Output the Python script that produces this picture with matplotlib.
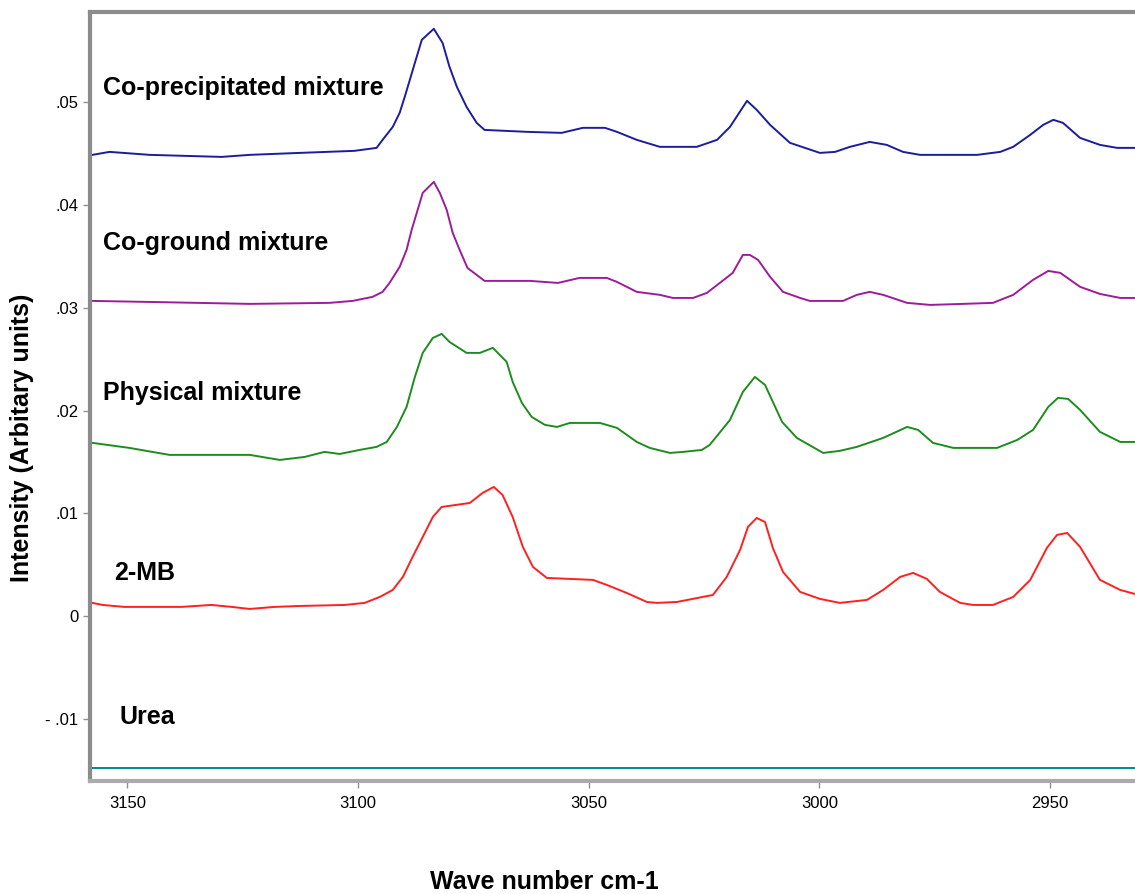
import matplotlib
matplotlib.use("Agg")
import matplotlib.pyplot as plt

plt.rcParams['font.family'] = ['Liberation Sans', 'DejaVu Sans']

# ---- data (wave number cm-1, intensity) ----
coprec_wn = [3157.6, 3153.9, 3145.2, 3129.6, 3123.5, 3112.7, 3100.8, 3096.0, 3094.7, 3092.5,
             3091.0, 3089.9, 3088.8, 3087.7, 3086.2, 3083.6, 3081.7, 3080.2, 3078.6, 3076.5,
             3074.3, 3072.6, 3063.4, 3055.9, 3051.3, 3046.5, 3043.9, 3039.6, 3034.6, 3026.6,
             3022.2, 3019.4, 3015.7, 3013.6, 3010.7, 3006.4, 2999.9, 2996.6, 2993.4, 2989.1,
             2985.4, 2981.9, 2978.2, 2965.8, 2960.8, 2958.0, 2954.3, 2951.5, 2949.3, 2947.2,
             2943.5, 2939.2, 2935.5, 2931.6]
coprec_int = [.04489, .04518, .04489, .04469, .04489, .04508, .04528, .04557, .04635, .04761,
              .04898, .05054, .05219, .05385, .05609, .05716, .05579, .05346, .05151, .04956,
              .04800, .04732, .04713, .04703, .04752, .04752, .04713, .04635, .04567, .04567,
              .04635, .04761, .05015, .04927, .04781, .04606, .04508, .04518, .04567, .04615,
              .04586, .04518, .04489, .04489, .04518, .04567, .04684, .04781, .04830, .04800,
              .04654, .04586, .04557, .04557]

coground_wn = [3157.6, 3145.2, 3123.5, 3106.2, 3101.2, 3096.9, 3094.7, 3093.2, 3091.0, 3089.5,
               3088.4, 3087.1, 3086.0, 3083.6, 3082.3, 3080.8, 3079.5, 3078.0, 3076.3, 3074.3,
               3072.6, 3062.8, 3056.7, 3052.0, 3046.1, 3043.9, 3039.6, 3034.6, 3031.8, 3027.4,
               3024.4, 3021.6, 3018.8, 3016.6, 3015.1, 3013.3, 3010.7, 3007.9, 3004.2, 3002.1,
               2994.9, 2991.9, 2989.1, 2986.2, 2981.0, 2976.0, 2968.9, 2962.4, 2958.0, 2953.7,
               2950.4, 2947.8, 2943.5, 2939.2, 2934.8, 2931.6]
coground_int = [.03067, .03057, .03038, .03048, .03067, .03106, .03155, .03242, .03398, .03564,
                .03759, .03953, .04119, .04226, .04119, .03953, .03729, .03564, .03388, .03320,
                .03262, .03262, .03242, .03291, .03291, .03252, .03155, .03126, .03096, .03096,
                .03145, .03242, .03340, .03515, .03515, .03466, .03301, .03155, .03096, .03067,
                .03067, .03126, .03155, .03126, .03048, .03028, .03038, .03048, .03126, .03272,
                .03359, .03340, .03204, .03135, .03096, .03096]

physical_wn = [3157.6, 3149.6, 3140.9, 3123.5, 3117.0, 3111.6, 3107.3, 3104.0, 3099.7, 3096.0,
               3093.8, 3091.6, 3089.5, 3087.7, 3086.0, 3083.8, 3081.9, 3080.2, 3076.5, 3073.6,
               3070.8, 3067.8, 3066.5, 3064.5, 3062.4, 3059.5, 3056.9, 3054.1, 3047.6, 3043.9,
               3039.6, 3036.8, 3032.4, 3029.6, 3025.5, 3023.8, 3019.4, 3016.6, 3014.0, 3011.8,
               3008.1, 3004.9, 2999.2, 2995.6, 2991.9, 2986.2, 2981.0, 2978.6, 2975.4, 2971.0,
               2961.5, 2957.1, 2953.7, 2950.4, 2948.3, 2946.1, 2943.5, 2939.2, 2934.8, 2931.6]
physical_int = [.01685, .01636, .01568, .01568, .01519, .01548, .01597, .01577, .01616, .01646,
                .01694, .01840, .02035, .02327, .02561, .02707, .02746, .02668, .02561, .02561,
                .02610, .02473, .02278, .02074, .01938, .01860, .01840, .01879, .01879, .01831,
                .01694, .01636, .01587, .01597, .01616, .01665, .01908, .02181, .02327, .02249,
                .01889, .01733, .01587, .01607, .01646, .01733, .01840, .01811, .01685, .01636,
                .01636, .01714, .01811, .02035, .02123, .02113, .02006, .01792, .01694, .01694]

mb_wn = [3157.6, 3155.4, 3150.7, 3138.3, 3131.8, 3127.4, 3123.5, 3118.1, 3112.7, 3102.9,
         3098.6, 3095.3, 3092.5, 3090.3, 3088.2, 3086.0, 3083.8, 3081.9, 3075.8, 3073.0,
         3070.6, 3068.7, 3066.5, 3064.3, 3062.1, 3059.1, 3049.1, 3046.1, 3041.8, 3037.4,
         3035.2, 3030.9, 3025.3, 3023.1, 3020.1, 3017.2, 3015.5, 3013.6, 3011.8, 3010.1,
         3007.9, 3004.2, 2999.9, 2995.6, 2989.7, 2986.2, 2982.5, 2979.7, 2976.7, 2973.9,
         2969.5, 2966.7, 2962.4, 2958.0, 2954.3, 2950.7, 2948.5, 2946.3, 2943.5, 2939.2,
         2934.8, 2931.6]
mb_int = [.00127, .00107, .00088, .00088, .00107, .00088, .00068, .00088, .00097, .00107,
          .00127, .00185, .00253, .00380, .00574, .00769, .00964, .01061, .01100, .01198,
          .01256, .01178, .00964, .00672, .00477, .00370, .00351, .00302, .00224, .00136,
          .00127, .00136, .00185, .00204, .00380, .00643, .00867, .00954, .00915, .00662,
          .00428, .00234, .00166, .00127, .00156, .00253, .00380, .00419, .00360, .00234,
          .00127, .00107, .00107, .00185, .00351, .00662, .00789, .00808, .00672, .00351,
          .00253, .00214]

urea_wn = [3157.6, 2931.6]
urea_int = [-0.0148, -0.0148]

labels = ["Co-precipitated mixture", "Co-ground mixture", "Physical mixture", "2-MB", "Urea"]
colors = ["#1c1c9c", "#9c1c9c", "#1e8c1e", "#ff2020", "#008b8b"]

x_ticks = [3150, 3100, 3050, 3000, 2950]
y_ticks = [0.05, 0.04, 0.03, 0.02, 0.01, 0.0, -0.01]
y_tick_labels = [".05", ".04", ".03", ".02", ".01", "0", "- .01"]

# label anchor points (wave number, intensity)
label_wn = [3155.4, 3155.4, 3155.4, 3152.8, 3151.7]
label_int = [0.0514, 0.0363, 0.0217, 0.0042, -0.0098]

fig = plt.figure(figsize=(11.35, 8.94), dpi=100)
ax = fig.add_axes([0.079, 0.1264, 0.921, 0.8602])

series = [(coprec_wn, coprec_int), (coground_wn, coground_int),
          (physical_wn, physical_int), (mb_wn, mb_int), (urea_wn, urea_int)]
for (wn, inten), c in zip(series, colors):
    ax.plot(wn, inten, color=c, lw=1.4)

for txt, lx, ly in zip(labels, label_wn, label_int):
    ax.text(lx, ly, txt, fontsize=18, fontweight='bold', ha='left', va='center')

ax.set_xlim(3158.2, 2931.6)
ax.set_ylim(-0.01607, 0.0588)
ax.set_xticks(x_ticks)
ax.set_xticklabels([str(t) for t in x_ticks])
ax.set_yticks(y_ticks)
ax.set_yticklabels(y_tick_labels)
ax.tick_params(axis='both', direction='out', length=5, width=1, color='#909090',
               labelsize=12, pad=3)
ax.tick_params(axis='x', pad=6)

ax.spines['right'].set_visible(False)
for s in ['left', 'top']:
    ax.spines[s].set_color('#8c8c8c')
    ax.spines[s].set_linewidth(3)
ax.spines['bottom'].set_color('#ababab')
ax.spines['bottom'].set_linewidth(3)

fig.text(0.0194, 0.51, "Intensity (Arbitary units)", rotation=90, fontsize=18,
         fontweight='bold', ha='center', va='center')
fig.text(0.480, 0.0134, "Wave number cm-1", fontsize=18, fontweight='bold',
         ha='center', va='center')

fig.savefig("out.png", dpi=100)
